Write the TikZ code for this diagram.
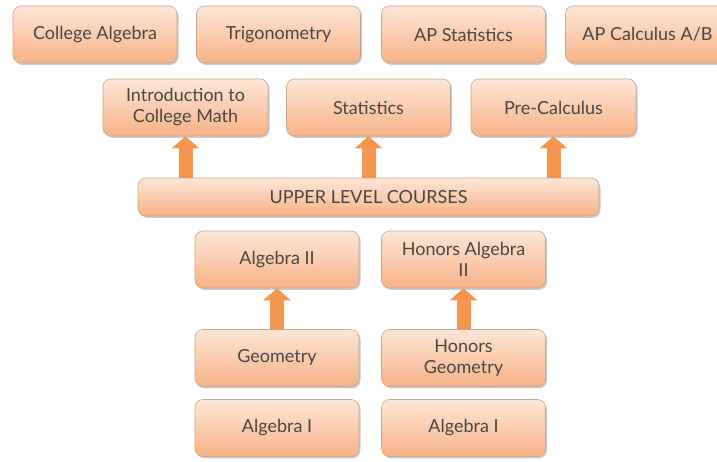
\documentclass[tikz,border=0pt]{standalone}
\usepackage{fontspec}
\setmainfont{Lato}
\usetikzlibrary{shadows,arrows.meta}
\definecolor{boxtop}{HTML}{FDE6D6}
\definecolor{boxbot}{HTML}{F7B285}
\definecolor{boxline}{HTML}{C9A88F}
\definecolor{txt}{HTML}{4A4644}
\definecolor{arr}{HTML}{F5964C}
\tikzset{
  box/.style={draw=boxline, line width=0.6pt, rounded corners=8pt,
    top color=boxtop, bottom color=boxbot, text=txt, align=center,
    font=\fontsize{18}{21}\selectfont, inner sep=2pt,
    minimum width=164pt, minimum height=57pt,
    drop shadow={shadow xshift=1.5pt, shadow yshift=-1.8pt, fill=black!45, opacity=0.45}},
  uparrow/.style={draw=arr, line width=14pt, -{Triangle[width=27pt,length=12pt]}}
}
\begin{document}
\begin{tikzpicture}[x=1pt,y=-1pt]
\useasboundingbox (0,0) rectangle (717,461);
\clip (0,0) rectangle (717,461);
% top row
\node[box] (ca) at (95,34.5) {College Algebra};
\node[box] (tr) at (278.5,34.5) {Trigonometry};
\node[box] (aps) at (463.5,34.5) {AP Statistics};
\node[box] (apc) at (647.5,34.5) {AP Calculus A/B};
% second row
\node[box, minimum width=165pt] (intro) at (185.5,107.5) {Introduction to\\College Math};
\node[box] (stat) at (368.5,107.5) {Statistics};
\node[box, minimum width=165pt] (pre) at (553.5,107.5) {Pre-Calculus};
% upper level
\node[box, minimum width=461pt, minimum height=38pt] (ulc) at (368.5,197) {UPPER LEVEL COURSES};
% lower
\node[box] (alg2) at (277,259.5) {Algebra II};
\node[box] (halg2) at (463.5,259.5) {Honors Algebra\\II};
\node[box] (geo) at (277,358) {Geometry};
\node[box] (hgeo) at (463.5,358) {Honors\\Geometry};
\node[box] (alg1a) at (277,428) {Algebra I};
\node[box] (alg1b) at (463.5,428) {Algebra I};
% arrows
\draw[uparrow] (ulc.north -| intro.south) -- (intro.south);
\draw[uparrow] (ulc.north -| stat.south) -- (stat.south);
\draw[uparrow] (ulc.north -| pre.south) -- (pre.south);
\draw[uparrow] (geo.north) -- (alg2.south);
\draw[uparrow] (hgeo.north) -- (halg2.south);
\end{tikzpicture}
\end{document}
